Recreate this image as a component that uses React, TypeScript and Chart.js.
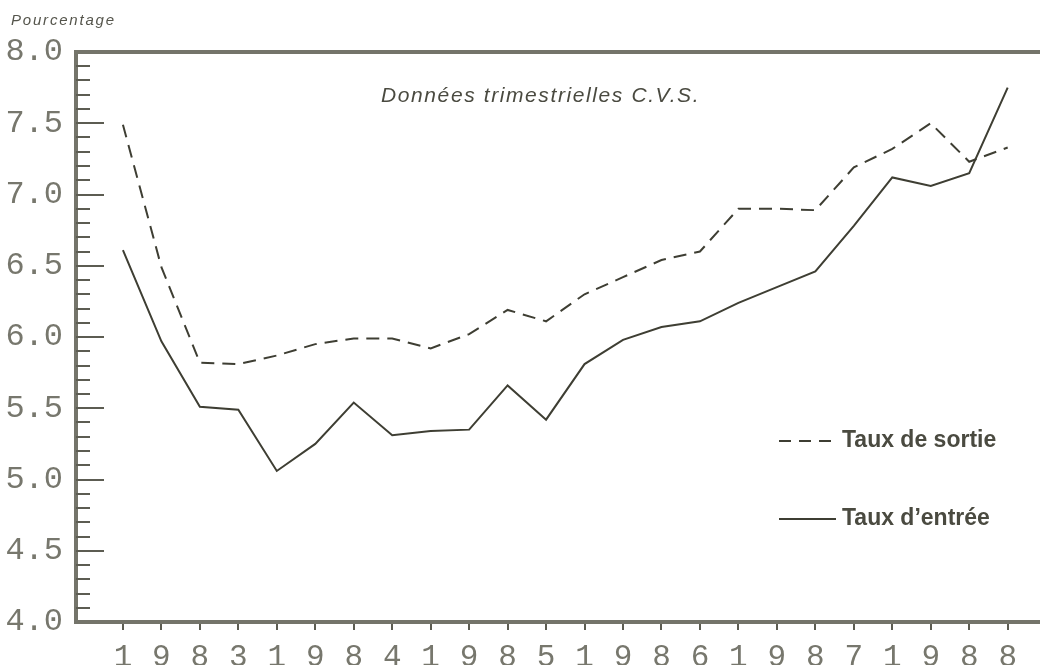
import React, { useEffect, useRef } from "react";
import { Chart, registerables } from "chart.js";

Chart.register(...registerables);

const years = ["1983", "1984", "1985", "1986", "1987", "1988"];
const quarterIndex = Array.from({ length: 24 }, (_, i) => i);
const tauxSortie = [7.49, 6.49, 5.82, 5.81, 5.87, 5.95, 5.99, 5.99, 5.92, 6.02, 6.19, 6.11, 6.3, 6.42, 6.54, 6.6, 6.9, 6.9, 6.89, 7.19, 7.32, 7.5, 7.23, 7.33];
const tauxEntree = [6.61, 5.97, 5.51, 5.49, 5.06, 5.25, 5.54, 5.31, 5.34, 5.35, 5.66, 5.42, 5.81, 5.98, 6.07, 6.11, 6.24, 6.35, 6.46, 6.78, 7.12, 7.06, 7.15, 7.75];
const seriesLabels = ["Taux de sortie", "Taux d\u2019entrée"];
const yTitle = "Pourcentage";
const noteText = "Données trimestrielles C.V.S.";

const LINE = "#3e3e33";
const AXIS = "#74746a";
const LABEL = "#77776d";

const decorPlugin = {
  id: "decor",
  beforeDatasetsDraw(chart: any) {
    const { ctx, chartArea } = chart;
    const y = chart.scales.y;
    ctx.save();
    ctx.strokeStyle = AXIS;
    ctx.lineWidth = 4;
    ctx.beginPath();
    ctx.moveTo(chartArea.left - 2, chartArea.top);
    ctx.lineTo(chartArea.right, chartArea.top);
    ctx.moveTo(chartArea.left, chartArea.top);
    ctx.lineTo(chartArea.left, chartArea.bottom);
    ctx.moveTo(chartArea.left - 2, chartArea.bottom);
    ctx.lineTo(chartArea.right, chartArea.bottom);
    ctx.stroke();
    ctx.lineWidth = 2;
    ctx.strokeStyle = "#5c5c52";
    for (let i = 1; i < 40; i++) {
      const v = 4 + i * 0.1;
      const py = Math.round(y.getPixelForValue(v));
      const major = i % 5 === 0;
      ctx.beginPath();
      ctx.moveTo(chartArea.left, py);
      ctx.lineTo(chartArea.left + (major ? 28 : 14), py);
      ctx.stroke();
    }
    ctx.restore();
  },
  afterDraw(chart: any) {
    const { ctx } = chart;
    ctx.save();
    ctx.fillStyle = "#55554c";
    ctx.font = "italic 15px 'Liberation Sans', Arial, sans-serif";
    (ctx as any).letterSpacing = "1.8px";
    ctx.textBaseline = "alphabetic";
    ctx.textAlign = "left";
    ctx.fillText(yTitle, 11, 25);
    ctx.font = "italic 21px 'Liberation Sans', Arial, sans-serif";
    (ctx as any).letterSpacing = "1.6px";
    ctx.fillStyle = "#4a4a40";
    ctx.fillText(noteText, 381, 102);
    (ctx as any).letterSpacing = "0px";
    const ds = chart.data.datasets;
    const rows = [441, 519];
    ctx.font = "bold 23px 'Liberation Sans', Arial, sans-serif";
    ds.forEach((d: any, i: number) => {
      const ly = rows[i];
      ctx.strokeStyle = LINE;
      ctx.lineWidth = 2;
      ctx.setLineDash(d.borderDash && d.borderDash.length ? [12, 8] : []);
      ctx.beginPath();
      ctx.moveTo(779, ly);
      ctx.lineTo(836, ly);
      ctx.stroke();
      ctx.setLineDash([]);
      ctx.fillStyle = "#4a4a40";
      ctx.textBaseline = "middle";
      ctx.fillText(d.label, 842, ly);
    });
    ctx.restore();
  },
};

export default function App() {
  const ref = useRef<HTMLCanvasElement | null>(null);
  useEffect(() => {
    if (!ref.current) return;
    const chart = new Chart(ref.current, {
      type: "line",
      data: {
        datasets: [
          {
            label: seriesLabels[0],
            data: quarterIndex.map((q) => ({ x: q, y: tauxSortie[q] })),
            borderColor: LINE,
            borderWidth: 2,
            borderDash: [13, 8],
            pointRadius: 0,
            tension: 0,
            fill: false,
          },
          {
            label: seriesLabels[1],
            data: quarterIndex.map((q) => ({ x: q, y: tauxEntree[q] })),
            borderColor: LINE,
            borderWidth: 2,
            pointRadius: 0,
            tension: 0,
            fill: false,
          },
        ],
      },
      options: {
        animation: false,
        responsive: false,
        layout: { padding: { top: 52, right: 0, left: 0, bottom: 0 } },
        plugins: { legend: { display: false }, tooltip: { enabled: false } },
        scales: {
          x: {
            type: "linear",
            min: -1.22,
            max: 23.84,
            afterBuildTicks: (s: any) => {
              s.ticks = quarterIndex.map((q) => ({ value: q }));
            },
            afterFit: (s: any) => {
              s.height = 43;
            },
            border: { display: false },
            grid: { drawOnChartArea: false, drawTicks: true, tickLength: 8, color: "#5c5c52", lineWidth: 2 },
            ticks: {
              autoSkip: false,
              maxRotation: 0,
              padding: 9,
              color: LABEL,
              font: { family: "'Liberation Mono', monospace", size: 31 },
              callback: (v: any) => {
                const i = Math.round(Number(v));
                return years[Math.floor(i / 4)]?.[i % 4] ?? "";
              },
            },
          },
          y: {
            min: 4,
            max: 8,
            afterFit: (s: any) => {
              s.width = 76;
            },
            border: { display: false },
            grid: { display: false, drawTicks: false },
            ticks: {
              stepSize: 0.5,
              padding: 13,
              color: LABEL,
              font: { family: "'Liberation Mono', monospace", size: 32 },
              callback: (v: any) => Number(v).toFixed(1),
            },
          },
        },
      },
      plugins: [decorPlugin],
    });
    return () => chart.destroy();
  }, []);
  return (
    <div style={{ position: "absolute", left: 0, top: 0, width: 1040, height: 665, background: "#fff" }}>
      <canvas ref={ref} width={1040} height={665} style={{ display: "block" }} />
    </div>
  );
}
